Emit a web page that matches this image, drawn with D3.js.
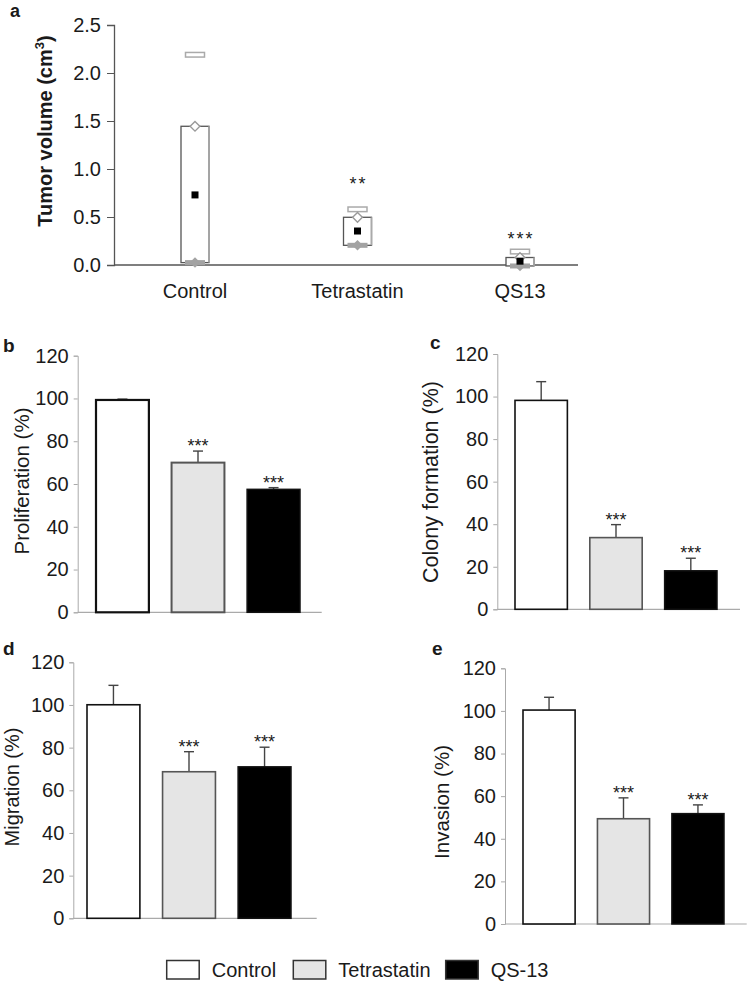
<!DOCTYPE html>
<html><head><meta charset="utf-8">
<script src="https://cdn.jsdelivr.net/npm/d3@7"></script>
<style>
body{margin:0;background:#fff}
svg{display:block}
text{font-family:"Liberation Sans",Arial,Helvetica,sans-serif;fill:#1a1a1a}
</style>
</head><body>
<svg id="chart" width="750" height="981"></svg>
<script>
// ---------- Panel a data ----------
const groupsA = ["Control", "Tetrastatin", "QS13"];
const maxA = [2.19, 0.58, 0.14];
const upperA = [1.445, 0.497, 0.078];
const meanA = [0.73, 0.354, 0.04];
const lowerA = [0.025, 0.205, -0.01];
const starsA = ["", "**", "***"];
const starLevelA = [null, 0.78, 0.21];
const ticksA = [0, 0.5, 1.0, 1.5, 2.0, 2.5];

// ---------- Panels b-e data ----------
const groups = ["Control", "Tetrastatin", "QS-13"];
const proliferation = [99.3, 70.0, 57.5];
const proliferationErr = [0.4, 5.4, 0.8];
const colony = [98.2, 33.7, 18.1];
const colonyErr = [8.8, 6.1, 5.9];
const migration = [100.1, 68.7, 71.0];
const migrationErr = [9.1, 9.4, 9.2];
const invasion = [100.4, 49.4, 51.8];
const invasionErr = [6.0, 9.8, 4.1];
const barStars = ["", "***", "***"];
const ticksBar = [0, 20, 40, 60, 80, 100, 120];

const svg = d3.select("#chart");
const FONT = 20;

// ================= Panel a =================
(function () {
  const g = svg.append("g");
  const x0 = 114, x1 = 578;
  const y = d3.scaleLinear().domain([0, 2.5]).range([265, 25]);
  const x = d3.scalePoint().domain(groupsA).range([195, 520]);

  g.append("text").attr("x", 10).attr("y", 17).attr("font-size", 18)
    .attr("font-weight", "bold").text("a");

  // y axis
  const ya = g.append("g").attr("transform", `translate(${x0},0)`)
    .call(d3.axisLeft(y).tickValues(ticksA).tickFormat(d3.format(".1f"))
      .tickSize(7).tickPadding(6));
  ya.select(".domain").attr("stroke", "#555").attr("stroke-width", 1.3);
  ya.selectAll(".tick line").attr("stroke", "#555");
  ya.selectAll(".tick text").attr("font-size", FONT).attr("fill", "#1a1a1a")
    .attr("font-family", '"Liberation Sans",Arial,sans-serif');

  // x axis line
  g.append("line").attr("x1", x0).attr("x2", x1).attr("y1", y(0)).attr("y2", y(0))
    .attr("stroke", "#555").attr("stroke-width", 1.3);

  groupsA.forEach((c, i) => {
    g.append("text").attr("x", x(c)).attr("y", 298).attr("text-anchor", "middle")
      .attr("font-size", FONT).text(c);
  });

  // y title
  const t = g.append("text").attr("transform", "translate(52,131) rotate(-90)")
    .attr("text-anchor", "middle").attr("font-size", FONT).attr("font-weight", "bold");
  t.append("tspan").text("Tumor volume (cm");
  t.append("tspan").attr("font-size", 13).attr("dy", -8).text("3");
  t.append("tspan").attr("dy", 8).text(")");

  const bw = 28;
  groupsA.forEach((c, i) => {
    const cx = x(c);
    const yt = y(upperA[i]), yb = y(lowerA[i]);
    // box
    g.append("rect").attr("x", cx - bw / 2).attr("y", yt).attr("width", bw)
      .attr("height", Math.max(0, yb - yt)).attr("fill", "#fff")
      .attr("stroke", "#555").attr("stroke-width", 1.3);
    g.append("line").attr("x1", cx + bw / 2).attr("x2", cx + bw / 2)
      .attr("y1", yt).attr("y2", yb).attr("stroke", "#aaa").attr("stroke-width", 1.6);
    // max marker
    g.append("rect").attr("x", cx - 9.5).attr("y", y(maxA[i]) - 2.3).attr("width", 19)
      .attr("height", 4.6).attr("fill", "#fff").attr("stroke", "#aaa").attr("stroke-width", 1.5);
    // lower marker
    g.append("rect").attr("x", cx - 10).attr("y", y(lowerA[i]) - 2.5).attr("width", 20)
      .attr("height", 5).attr("fill", "#a3a3a3");
    g.append("path").attr("d", d3.symbol(d3.symbolDiamond2, 70)())
      .attr("transform", `translate(${cx},${y(lowerA[i])})`).attr("fill", "#a3a3a3");
    // upper diamond
    g.append("path").attr("d", d3.symbol(d3.symbolDiamond2, 60)())
      .attr("transform", `translate(${cx},${y(upperA[i])})`)
      .attr("fill", "#fff").attr("stroke", "#999").attr("stroke-width", 1.4);
    // mean
    g.append("rect").attr("x", cx - 3.5).attr("y", y(meanA[i]) - 3.5)
      .attr("width", 7).attr("height", 7).attr("fill", "#000");
    if (starsA[i]) {
      g.append("text").attr("x", cx + 1).attr("y", y(starLevelA[i]))
        .attr("text-anchor", "middle").attr("font-size", 18).attr("letter-spacing", 2)
        .text(starsA[i]);
    }
  });
})();

// ================= Bar panels =================
const fills = ["#ffffff", "#e5e5e5", "#000000"];
const strokes = ["#111", "#555", "#111"];

function barPanel(cfg) {
  const g = svg.append("g");
  const y = d3.scaleLinear().domain([0, 120]).range([cfg.y0, cfg.y120]);
  const x = d3.scaleBand().domain(groups).range(cfg.barRange).paddingInner(0.3).paddingOuter(0);

  g.append("text").attr("x", cfg.labelX).attr("y", cfg.labelY).attr("font-size", 19)
    .attr("font-weight", "bold").text(cfg.label);

  const ya = g.append("g").attr("transform", `translate(${cfg.axisX},0)`)
    .call(d3.axisLeft(y).tickValues(ticksBar).tickSize(4).tickPadding(5));
  ya.select(".domain").attr("stroke", "#aaa");
  ya.selectAll(".tick line").attr("stroke", "#aaa");
  ya.selectAll(".tick text").attr("font-size", FONT).attr("fill", "#1a1a1a")
    .attr("font-family", '"Liberation Sans",Arial,sans-serif');

  g.append("line").attr("x1", cfg.axisX).attr("x2", cfg.axisEnd)
    .attr("y1", y(0)).attr("y2", y(0)).attr("stroke", "#aaa").attr("stroke-width", 1.2);

  g.append("text").attr("transform", `translate(${cfg.titleX},${cfg.titleY}) rotate(-90)`)
    .attr("text-anchor", "middle").attr("font-size", cfg.titleSize).text(cfg.title);

  groups.forEach((c, i) => {
    const v = cfg.values[i], e = cfg.errs[i];
    const bx = x(c), w = x.bandwidth(), cx = bx + w / 2;
    // error bar
    g.append("line").attr("x1", cx).attr("x2", cx).attr("y1", y(v)).attr("y2", y(v + e))
      .attr("stroke", "#444").attr("stroke-width", 1.4);
    g.append("line").attr("x1", cx - 5).attr("x2", cx + 5).attr("y1", y(v + e)).attr("y2", y(v + e))
      .attr("stroke", "#444").attr("stroke-width", 1.4);
    g.append("rect").attr("x", bx).attr("y", y(v)).attr("width", w).attr("height", y(0) - y(v))
      .attr("fill", fills[i]).attr("stroke", strokes[i]).attr("stroke-width", cfg.sw[i]);
    if (barStars[i]) {
      g.append("text").attr("x", cx).attr("y", y(v + e) + 1).attr("text-anchor", "middle")
        .attr("font-size", 18).text(barStars[i]);
    }
  });
}

barPanel({ label: "b", labelX: 3, labelY: 352, y0: 612.3, y120: 355.7, axisX: 77.7, axisEnd: 321.7,
  barRange: [96, 300], title: "Proliferation (%)", titleX: 29, titleY: 481, titleSize: 20.5,
  values: proliferation, errs: proliferationErr, sw: [2.2, 2, 1.5] });
barPanel({ label: "c", labelX: 430, labelY: 349, y0: 609.3, y120: 354, axisX: 497.3, axisEnd: 740,
  barRange: [515, 717], title: "Colony formation (%)", titleX: 438, titleY: 482, titleSize: 21.5,
  values: colony, errs: colonyErr, sw: [1.6, 1.6, 1.5] });
barPanel({ label: "d", labelX: 3, labelY: 655, y0: 918.3, y120: 662.3, axisX: 73.3, axisEnd: 316.7,
  barRange: [87, 291], title: "Migration (%)", titleX: 18.5, titleY: 787, titleSize: 20,
  values: migration, errs: migrationErr, sw: [1.6, 1.6, 1.5] });
barPanel({ label: "e", labelX: 432, labelY: 655, y0: 924, y120: 668.3, axisX: 505, axisEnd: 746.7,
  barRange: [523, 724], title: "Invasion (%)", titleX: 449, titleY: 802, titleSize: 20.5,
  values: invasion, errs: invasionErr, sw: [1.6, 1.6, 1.5] });

// ================= Legend =================
const legX = d3.scaleOrdinal().domain(groups).range([166.7, 293.3, 445.7]);
const lg = svg.append("g");
groups.forEach((c, i) => {
  lg.append("rect").attr("x", legX(c)).attr("y", 960.5).attr("width", 32.5).attr("height", 18.5)
    .attr("fill", fills[i]).attr("stroke", "#333").attr("stroke-width", 1.5);
  lg.append("text").attr("x", legX(c) + 45).attr("y", 977).attr("font-size", FONT).text(c);
});
</script>
</body></html>
